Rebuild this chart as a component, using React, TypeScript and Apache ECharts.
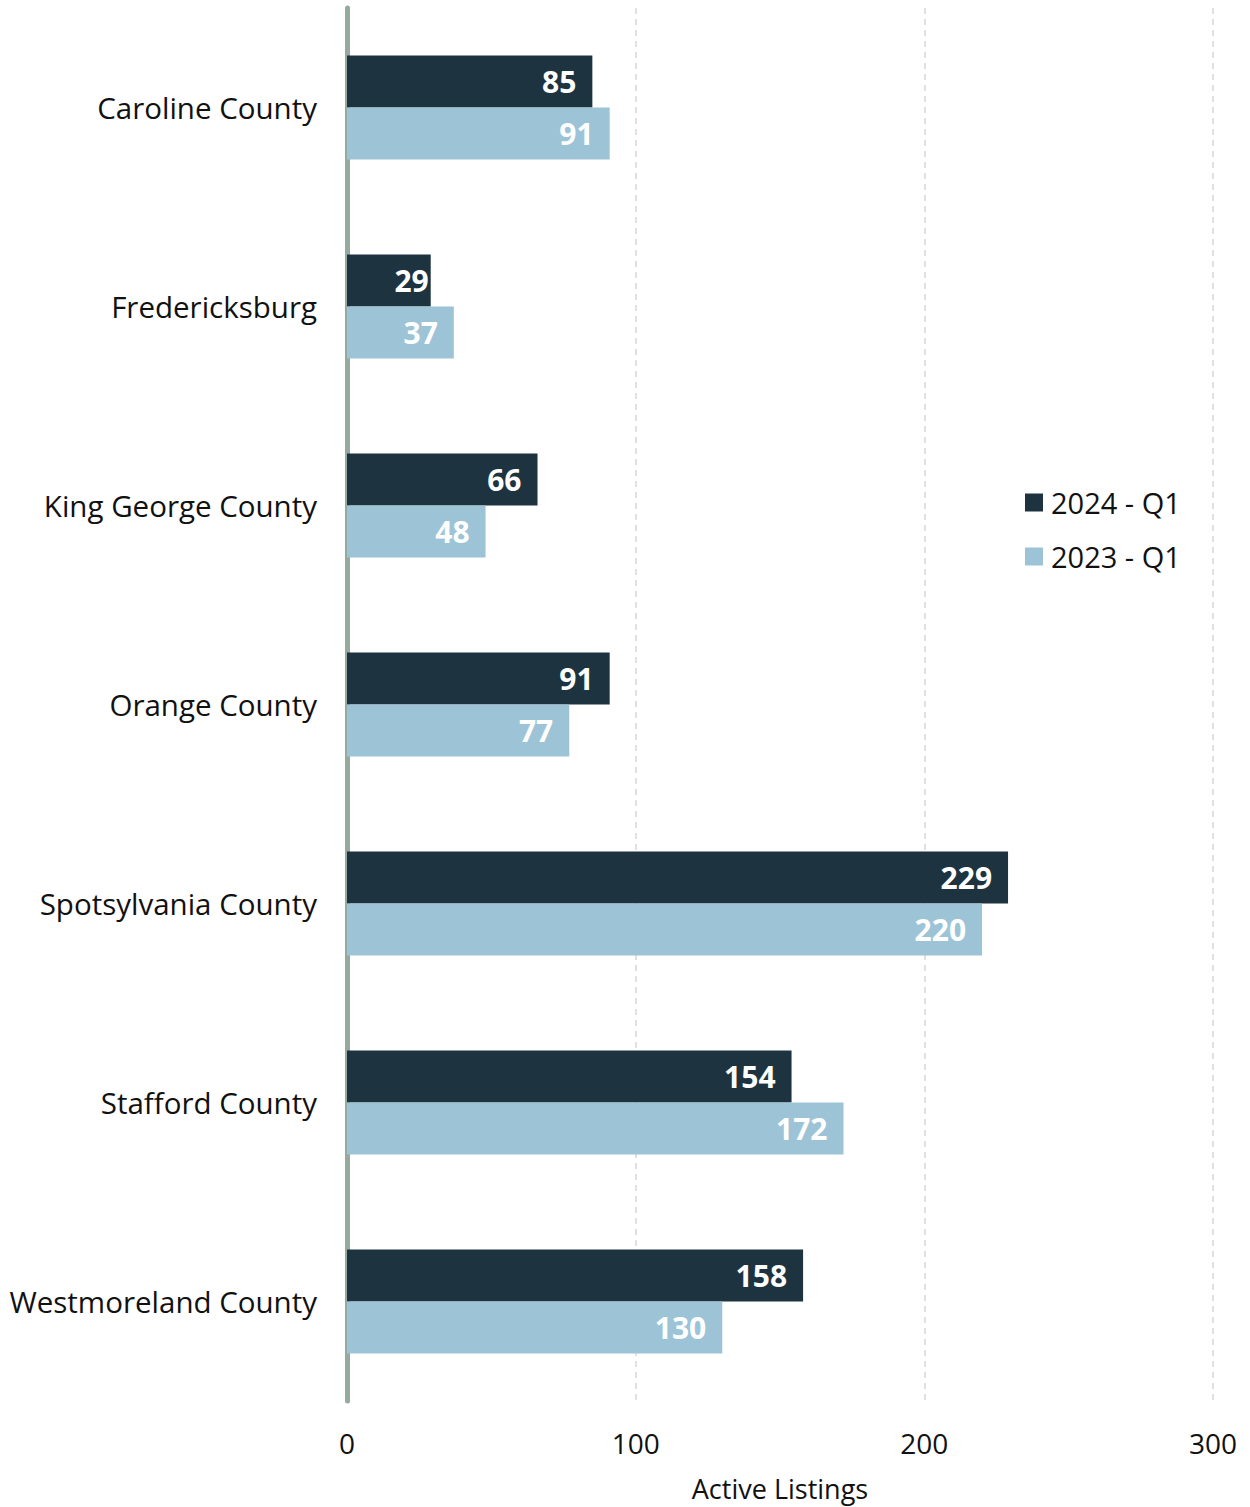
import React, { useEffect, useRef } from "react";
import * as echarts from "echarts";

const categories = [
  "Caroline County",
  "Fredericksburg",
  "King George County",
  "Orange County",
  "Spotsylvania County",
  "Stafford County",
  "Westmoreland County",
];
const series2024 = [85, 29, 66, 91, 229, 154, 158];
const series2023 = [91, 37, 48, 77, 220, 172, 130];
const seriesNames = ["2024 - Q1", "2023 - Q1"];
const xTicks = { min: 0, max: 300, interval: 100 };
const axisTitle = "Active Listings";

const FONT = "'Open Sans', 'Noto Sans', sans-serif";

export default function App() {
  const ref = useRef<HTMLDivElement>(null);
  useEffect(() => {
    if (!ref.current) return;
    const chart = echarts.init(ref.current, null, { renderer: "svg" });
    const label = {
      show: true,
      position: "insideRight",
      distance: 16,
      color: "#ffffff",
      fontFamily: FONT,
      fontWeight: "bold",
      fontSize: 30,
    };
    // In the reference the short "29" label hugs the end of its bar
    const data2024 = series2024.map((v, i) =>
      i === 1 ? { value: v, label: { distance: 2 } } : v
    );
    chart.setOption({
      animation: false,
      textStyle: { fontFamily: FONT },
      grid: { left: 347, right: 37, top: 8, bottom: 105, containLabel: false },
      legend: {
        orient: "vertical",
        left: 1020,
        top: 483,
        itemWidth: 18,
        itemHeight: 18,
        itemGap: 25,
        icon: "rect",
        textStyle: { fontSize: 29, color: "#111111", fontFamily: FONT, padding: [0, 0, 0, 3] },
        data: seriesNames,
      },
      xAxis: {
        type: "value",
        min: xTicks.min,
        max: xTicks.max,
        interval: xTicks.interval,
        name: axisTitle,
        nameLocation: "middle",
        nameGap: 74,
        nameTextStyle: { fontSize: 27, color: "#111111", fontFamily: FONT },
        axisLine: { show: false },
        axisTick: { show: false },
        axisLabel: { fontSize: 28, color: "#111111", margin: 28, fontFamily: FONT },
        splitLine: { show: true, lineStyle: { type: [6, 5], color: "#d6d6d6", width: 1.5 } },
      },
      yAxis: {
        type: "category",
        inverse: true,
        data: categories,
        axisLine: { show: true, lineStyle: { color: "#95a99f", width: 5 } },
        axisTick: { show: false },
        axisLabel: {
          fontSize: 29.5,
          color: "#111111",
          margin: 30,
          fontFamily: FONT,
          padding: [0, 0, 8, 0],
        },
        splitLine: { show: false },
      },
      series: [
        {
          name: seriesNames[0],
          type: "bar",
          data: data2024,
          barWidth: 52,
          barGap: "0%",
          itemStyle: { color: "#1d3340" },
          label,
        },
        {
          name: seriesNames[1],
          type: "bar",
          data: series2023,
          barWidth: 52,
          barGap: "0%",
          itemStyle: { color: "#9dc4d6" },
          label,
        },
      ],
    });
    return () => chart.dispose();
  }, []);
  return (
    <div
      ref={ref}
      style={{ position: "absolute", left: 0, top: 0, width: 1250, height: 1507, background: "#ffffff" }}
    />
  );
}
